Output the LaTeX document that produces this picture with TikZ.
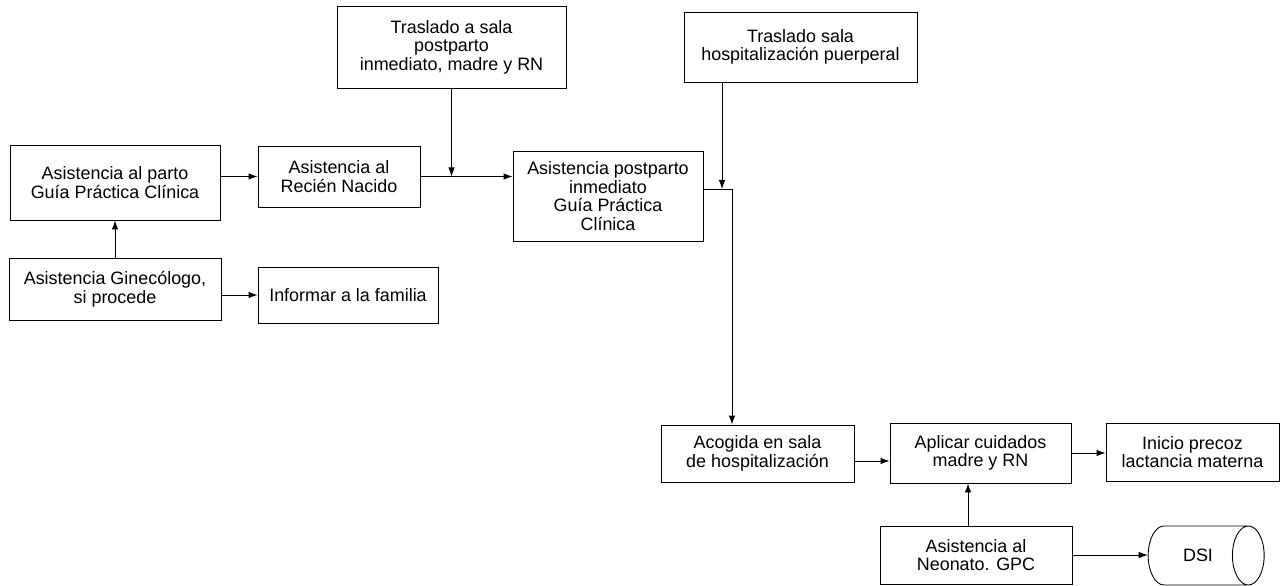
\documentclass[tikz,border=0pt]{standalone}
\usepackage{fontspec}
\setmainfont{Liberation Sans}
\usetikzlibrary{shapes.geometric,arrows.meta}
\begin{document}
\begin{tikzpicture}[x=1bp,y=-1bp,
  box/.style={draw, line width=0.9bp, align=center, inner sep=0pt,
    font=\fontsize{18}{18.7}\selectfont},
  arr/.style={-{Latex[length=9bp,width=6.5bp]}, line width=0.9bp},
  ln/.style={line width=0.9bp}]
\useasboundingbox (0,0) rectangle (1284,586);
\node[box, minimum width=210bp, minimum height=75bp] (A) at (115,182.5) {Asistencia al parto\\Guía Práctica Clínica};
\node[box, minimum width=162bp, minimum height=61bp] (B) at (339,176.5) {Asistencia al\\Recién Nacido};
\node[box, minimum width=229bp, minimum height=82bp] (C) at (451.5,47) {Traslado a sala\\postparto\\inmediato, madre y RN};
\node[box, minimum width=190bp, minimum height=90bp] (D) at (608,196) {Asistencia postparto\\inmediato\\Guía Práctica\\Clínica};
\node[box, minimum width=233bp, minimum height=70bp] (E) at (800.5,47) {Traslado sala\\hospitalización puerperal};
\node[box, minimum width=212bp, minimum height=62bp] (F) at (115,289) {Asistencia Ginecólogo,\\si procede};
\node[box, minimum width=180bp, minimum height=56bp] (G) at (348,295) {Informar a la familia};
\node[box, minimum width=193bp, minimum height=57bp] (H) at (757.5,453.5) {Acogida en sala\\de hospitalización};
\node[box, minimum width=181bp, minimum height=60bp] (I) at (980.5,453) {Aplicar cuidados\\madre y RN};
\node[box, minimum width=173bp, minimum height=58bp] (J) at (1192.5,452) {Inicio precoz\\lactancia materna};
\node[box, minimum width=192bp, minimum height=58bp] (K) at (976,555) {Asistencia al\\Neonato. GPC};
\node[box, cylinder, shape border rotate=0, aspect=2.5, minimum width=59bp, minimum height=116bp] (S) at (1198,555.5) {DSI};

\draw[arr] (F.north) -- (A.south);
\draw[arr] (A.east |- B.west) -- (B.west);
\draw[arr] (B.east) -- (B.east -| D.west);
\coordinate (cj) at (C.south |- B.east);
\draw[arr] (C.south) -- (cj);
\coordinate (dj) at (732,189);
\draw[ln] (D.east |- dj) -- (dj);
\draw[arr] (dj) -- (dj |- H.north);
\coordinate (ej) at (722,189);
\draw[arr] (E.south -| ej) -- (ej);
\draw[arr] (F.east |- G.west) -- (G.west);
\draw[arr] ([yshift=-7.5bp]H.east) -- ([yshift=-7.5bp]H.east -| I.west);
\draw[arr] (I.east) -- (I.east -| J.west);
\draw[arr] ([xshift=-8bp]K.north) -- ([xshift=-8bp]K.north |- I.south);
\draw[arr] (K.east) -- (K.east -| S.west);
\end{tikzpicture}
\end{document}
